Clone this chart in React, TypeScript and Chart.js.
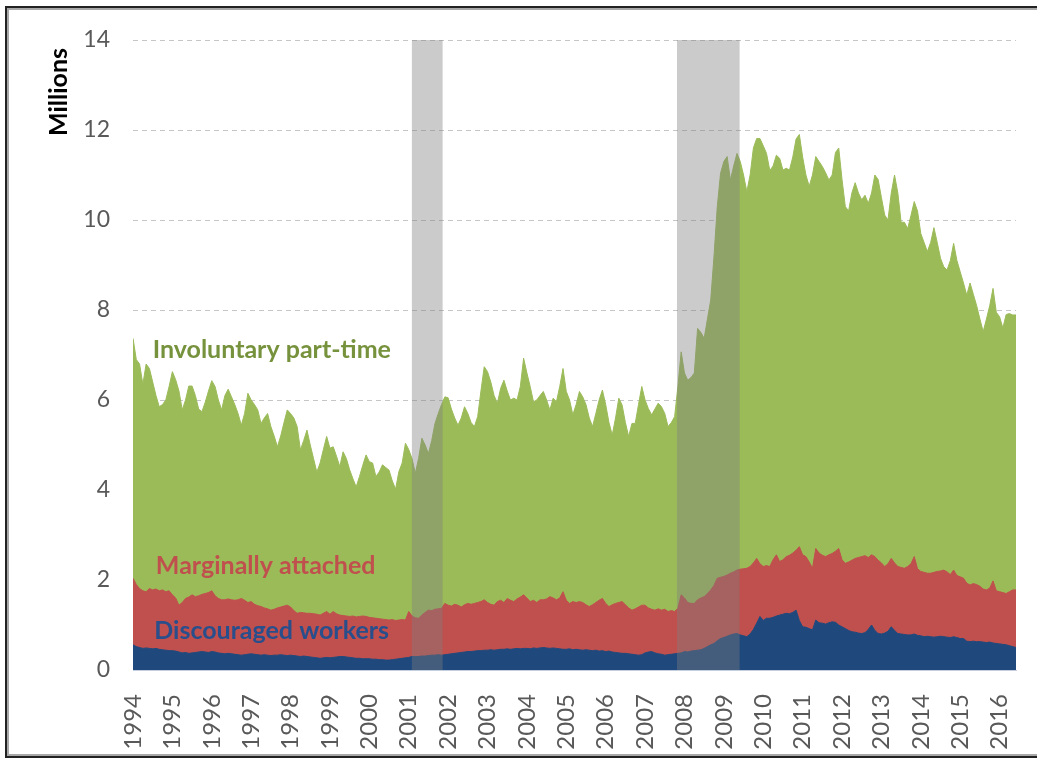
import React, { useEffect, useRef } from "react";
import { Chart, registerables } from "chart.js";

Chart.register(...registerables);

// ---------------- data ----------------
const startYear = 1994; // monthly series, Jan 1994 .. Jun 2016
const tickYears = [
  1994, 1995, 1996, 1997, 1998, 1999, 2000, 2001, 2002, 2003, 2004, 2005,
  2006, 2007, 2008, 2009, 2010, 2011, 2012, 2013, 2014, 2015, 2016,
];
const recessionStart = [2001.08, 2007.81];
const recessionEnd = [2001.86, 2009.4];
const seriesNames = ["Discouraged workers", "Marginally attached", "Involuntary part-time"];

// millions
const discouragedWorkers = [
  0.56, 0.52, 0.50, 0.48, 0.49, 0.48, 0.47, 0.48, 0.46, 0.45, 0.44, 0.43,
  0.43, 0.42, 0.40, 0.38, 0.39, 0.37, 0.38, 0.39, 0.40, 0.41, 0.40, 0.39,
  0.41, 0.40, 0.38, 0.37, 0.36, 0.37, 0.36, 0.35, 0.34, 0.33, 0.34, 0.35,
  0.36, 0.35, 0.34, 0.33, 0.34, 0.33, 0.32, 0.33, 0.33, 0.34, 0.33, 0.32,
  0.33, 0.32, 0.31, 0.30, 0.31, 0.30, 0.29, 0.28, 0.27, 0.26, 0.27, 0.28,
  0.27, 0.28, 0.29, 0.30, 0.30, 0.29, 0.28, 0.27, 0.26, 0.26, 0.25, 0.25,
  0.25, 0.24, 0.24, 0.23, 0.23, 0.22, 0.22, 0.23, 0.24, 0.25, 0.26, 0.27,
  0.28, 0.30, 0.30, 0.30, 0.31, 0.31, 0.32, 0.33, 0.33, 0.34, 0.33, 0.34,
  0.35, 0.36, 0.37, 0.38, 0.39, 0.40, 0.41, 0.41, 0.42, 0.43, 0.43, 0.44,
  0.44, 0.45, 0.44, 0.45, 0.46, 0.46, 0.47, 0.46, 0.47, 0.48, 0.47, 0.48,
  0.48, 0.47, 0.49, 0.48, 0.49, 0.50, 0.49, 0.48, 0.49, 0.48, 0.47, 0.46,
  0.46, 0.47, 0.45, 0.46, 0.45, 0.44, 0.45, 0.44, 0.43, 0.44, 0.42, 0.43,
  0.41, 0.42, 0.40, 0.39, 0.38, 0.37, 0.37, 0.36, 0.35, 0.34, 0.33, 0.34,
  0.38, 0.40, 0.41, 0.38, 0.36, 0.35, 0.33, 0.34, 0.35, 0.36, 0.37, 0.38,
  0.41, 0.40, 0.42, 0.43, 0.44, 0.45, 0.48, 0.52, 0.56, 0.59, 0.65, 0.70,
  0.72, 0.75, 0.78, 0.80, 0.81, 0.78, 0.76, 0.74, 0.80, 0.90, 1.04, 1.19,
  1.10, 1.15, 1.15, 1.17, 1.20, 1.22, 1.24, 1.26, 1.25, 1.28, 1.33, 1.10,
  0.96, 0.95, 0.92, 0.89, 1.11, 1.05, 1.04, 1.02, 1.05, 1.07, 1.06, 1.00,
  0.96, 0.92, 0.88, 0.85, 0.84, 0.82, 0.81, 0.83, 0.90, 1.00, 0.88, 0.81,
  0.80, 0.82, 0.86, 0.96, 0.88, 0.81, 0.80, 0.79, 0.78, 0.78, 0.80, 0.77,
  0.76, 0.74, 0.75, 0.74, 0.73, 0.74, 0.75, 0.74, 0.73, 0.72, 0.74, 0.72,
  0.70, 0.70, 0.64, 0.63, 0.64, 0.63, 0.63, 0.62, 0.61, 0.62, 0.60, 0.59,
  0.58, 0.57, 0.56, 0.54, 0.52, 0.50,
];

const marginallyAttached = [
  2.04, 1.90, 1.81, 1.76, 1.74, 1.81, 1.78, 1.80, 1.76, 1.78, 1.74, 1.76,
  1.67, 1.60, 1.44, 1.50, 1.59, 1.62, 1.67, 1.63, 1.65, 1.68, 1.70, 1.72,
  1.76, 1.65, 1.59, 1.56, 1.56, 1.58, 1.56, 1.55, 1.56, 1.59, 1.55, 1.50,
  1.52, 1.46, 1.43, 1.41, 1.38, 1.36, 1.33, 1.35, 1.38, 1.40, 1.42, 1.44,
  1.40, 1.32, 1.26, 1.28, 1.27, 1.26, 1.26, 1.25, 1.24, 1.22, 1.26, 1.30,
  1.24, 1.30, 1.25, 1.22, 1.21, 1.20, 1.19, 1.20, 1.18, 1.19, 1.20, 1.19,
  1.17, 1.16, 1.15, 1.14, 1.13, 1.12, 1.11, 1.12, 1.10, 1.11, 1.12, 1.11,
  1.30, 1.20, 1.16, 1.15, 1.22, 1.28, 1.33, 1.32, 1.35, 1.36, 1.37, 1.48,
  1.44, 1.42, 1.46, 1.44, 1.40, 1.45, 1.48, 1.46, 1.48, 1.50, 1.52, 1.56,
  1.50, 1.46, 1.44, 1.52, 1.55, 1.50, 1.59, 1.55, 1.52, 1.58, 1.62, 1.67,
  1.60, 1.52, 1.55, 1.50, 1.56, 1.56, 1.58, 1.63, 1.60, 1.56, 1.60, 1.74,
  1.55, 1.48, 1.52, 1.50, 1.52, 1.50, 1.45, 1.41, 1.45, 1.50, 1.55, 1.59,
  1.48, 1.41, 1.45, 1.48, 1.50, 1.52, 1.45, 1.38, 1.33, 1.36, 1.40, 1.44,
  1.44, 1.38, 1.35, 1.33, 1.36, 1.33, 1.35, 1.30, 1.32, 1.30, 1.37, 1.67,
  1.60, 1.50, 1.48, 1.48, 1.56, 1.60, 1.63, 1.70, 1.78, 1.88, 2.04, 2.06,
  2.08, 2.11, 2.15, 2.18, 2.22, 2.24, 2.25, 2.26, 2.30, 2.38, 2.48, 2.36,
  2.30, 2.32, 2.30, 2.45, 2.56, 2.41, 2.45, 2.52, 2.55, 2.60, 2.66, 2.74,
  2.56, 2.52, 2.40, 2.26, 2.70, 2.60, 2.55, 2.52, 2.56, 2.59, 2.64, 2.70,
  2.45, 2.37, 2.40, 2.44, 2.48, 2.50, 2.52, 2.54, 2.50, 2.56, 2.52, 2.44,
  2.38, 2.30, 2.36, 2.48, 2.38, 2.30, 2.28, 2.26, 2.30, 2.36, 2.52, 2.25,
  2.19, 2.17, 2.15, 2.15, 2.17, 2.19, 2.20, 2.22, 2.18, 2.12, 2.22, 2.10,
  2.07, 2.04, 1.93, 1.89, 1.92, 1.90, 1.86, 1.80, 1.78, 1.82, 1.98, 1.76,
  1.74, 1.72, 1.70, 1.74, 1.78, 1.78,
];

const involuntaryPartTime = [
  5.33, 5.00, 4.99, 4.59, 5.06, 4.89, 4.62, 4.30, 4.09, 4.12, 4.26, 4.54,
  4.96, 4.85, 4.76, 4.28, 4.41, 4.69, 4.64, 4.47, 4.15, 4.06, 4.25, 4.48,
  4.67, 4.65, 4.41, 4.22, 4.54, 4.66, 4.51, 4.35, 4.14, 3.85, 4.15, 4.65,
  4.48, 4.44, 4.35, 4.07, 4.22, 4.34, 4.08, 3.85, 3.58, 3.80, 4.08, 4.34,
  4.30, 4.28, 4.15, 3.61, 3.83, 4.07, 3.74, 3.45, 3.16, 3.38, 3.64, 3.89,
  3.69, 3.66, 3.50, 3.30, 3.64, 3.50, 3.26, 3.05, 2.89, 3.11, 3.35, 3.59,
  3.46, 3.44, 3.15, 3.26, 3.43, 3.38, 3.33, 3.08, 2.92, 3.30, 3.48, 3.93,
  3.60, 3.50, 3.21, 3.55, 3.93, 3.72, 3.48, 3.78, 4.13, 4.34, 4.53, 4.59,
  4.61, 4.38, 4.14, 4.00, 4.20, 4.40, 4.22, 4.04, 3.93, 4.13, 4.68, 5.18,
  5.13, 4.94, 4.66, 4.41, 4.71, 4.94, 4.61, 4.45, 4.52, 4.42, 4.68, 5.26,
  5.00, 4.78, 4.41, 4.50, 4.54, 4.63, 4.42, 4.15, 4.44, 4.40, 4.70, 4.96,
  4.64, 4.52, 4.15, 4.40, 4.67, 4.57, 4.45, 4.19, 3.96, 4.20, 4.45, 4.63,
  4.42, 4.09, 3.77, 4.12, 4.54, 4.37, 4.05, 3.81, 4.15, 4.12, 4.50, 4.86,
  4.56, 4.43, 4.32, 4.47, 4.57, 4.52, 4.35, 4.11, 4.18, 4.33, 4.93, 5.40,
  5.00, 4.94, 5.02, 5.12, 6.03, 5.90, 5.74, 6.10, 6.44, 7.32, 8.26, 8.98,
  9.22, 9.30, 8.74, 9.02, 9.26, 9.06, 8.75, 8.37, 8.70, 9.22, 9.33, 9.45,
  9.35, 9.16, 8.80, 8.75, 8.88, 8.96, 8.66, 8.63, 8.56, 8.80, 9.14, 9.16,
  8.84, 8.48, 8.35, 8.74, 8.71, 8.70, 8.64, 8.53, 8.33, 8.41, 8.86, 8.90,
  8.45, 7.93, 7.80, 8.16, 8.35, 8.10, 7.93, 8.01, 7.87, 8.04, 8.48, 8.46,
  8.12, 7.81, 7.64, 8.12, 8.62, 8.30, 7.67, 7.69, 7.51, 7.74, 7.89, 7.95,
  7.51, 7.33, 7.15, 7.35, 7.66, 7.31, 6.95, 6.74, 6.71, 6.98, 7.26, 7.00,
  6.78, 6.56, 6.40, 6.71, 6.43, 6.20, 5.94, 5.72, 6.02, 6.28, 6.50, 6.19,
  6.11, 5.88, 6.20, 6.18, 6.11, 6.11,
];

// ---------------- styling ----------------
const FONT = 'Lato, "Liberation Sans", sans-serif';
const COLORS = ["#1F497D", "#C0504D", "#9BBB59"];
const TEXT_COLORS = ["#284E8C", "#C0504D", "#76923C"];

export default function App() {
  const ref = useRef<HTMLCanvasElement | null>(null);

  useEffect(() => {
    if (!ref.current) return;
    const months = discouragedWorkers.map((_, i) => startYear + i / 12);
    const pts = (vals: number[]) => vals.map((v, i) => ({ x: months[i], y: v }));
    const stackedTop = marginallyAttached.map((m, i) => m + involuntaryPartTime[i]);

    const mkDs = (k: number, vals: number[]) => ({
      label: seriesNames[k],
      data: pts(vals),
      backgroundColor: COLORS[k],
      borderColor: COLORS[k],
      borderWidth: 1,
      pointRadius: 0,
      pointHoverRadius: 0,
      tension: 0,
      fill: "origin",
    });

    // label anchors (year, millions) for in-plot series labels
    const labelAnchors = [
      { k: 2, x: 1994.5, y: 7.11 },
      { k: 1, x: 1994.58, y: 2.31 },
      { k: 0, x: 1994.54, y: 0.86 },
    ];

    const overlay = {
      id: "overlay",
      afterDatasetsDraw(chart: any) {
        const { ctx, chartArea, scales } = chart;
        const xs = scales.x;
        const ys = scales.y;
        ctx.save();
        ctx.fillStyle = "rgba(125,125,125,0.4)";
        recessionStart.forEach((s, k) => {
          const x1 = xs.getPixelForValue(s);
          const x2 = xs.getPixelForValue(recessionEnd[k]);
          ctx.fillRect(x1, chartArea.top, x2 - x1, chartArea.bottom - chartArea.top);
        });
        ctx.font = `bold 25px ${FONT}`;
        ctx.textAlign = "left";
        ctx.textBaseline = "middle";
        labelAnchors.forEach((a) => {
          ctx.fillStyle = TEXT_COLORS[a.k];
          ctx.fillText(seriesNames[a.k], xs.getPixelForValue(a.x), ys.getPixelForValue(a.y));
        });
        ctx.restore();
      },
      afterDraw(chart: any) {
        const { ctx, chartArea } = chart;
        ctx.save();
        ctx.translate(59, chartArea.top + 8);
        ctx.rotate(-Math.PI / 2);
        ctx.font = `bold 25px ${FONT}`;
        ctx.fillStyle = "#000";
        ctx.textAlign = "right";
        ctx.textBaseline = "middle";
        ctx.fillText("Millions", 0, 0);
        ctx.restore();
      },
    };

    const chart = new Chart(ref.current, {
      type: "line",
      data: {
        datasets: [
          mkDs(0, discouragedWorkers),
          mkDs(1, marginallyAttached),
          mkDs(2, stackedTop),
        ] as any,
      },
      options: {
        responsive: false,
        animation: false,
        devicePixelRatio: 1,
        layout: { padding: { left: 0, right: 21, top: 40, bottom: 0 } },
        plugins: { legend: { display: false }, tooltip: { enabled: false } },
        events: [],
        scales: {
          x: {
            type: "linear",
            min: startYear,
            max: months[months.length - 1],
            grid: { display: false },
            border: { display: true, color: "#c5cfdf", width: 1 },
            afterBuildTicks: (s: any) => {
              s.ticks = tickYears.map((v) => ({ value: v }));
            },
            afterFit: (s: any) => {
              s.height = 89;
              s.paddingLeft = 0;
              s.paddingRight = 0;
            },
            ticks: {
              autoSkip: false,
              includeBounds: false,
              minRotation: 90,
              maxRotation: 90,
              padding: 16,
              color: "#595959",
              font: { family: FONT, size: 24 },
              callback: (v: any) => String(v),
            },
          },
          y: {
            min: 0,
            max: 14,
            afterFit: (s: any) => {
              s.width = 133;
              s.paddingTop = 0;
              s.paddingBottom = 0;
            },
            grid: {
              drawTicks: false,
              lineWidth: 1,
              color: (c: any) => (c.tick && c.tick.value === 0 ? "rgba(0,0,0,0)" : "#c6c6c6"),
              borderDash: [5, 4],
            } as any,
            border: { display: false, dash: [5, 4] },
            ticks: {
              stepSize: 2,
              padding: 23,
              color: "#595959",
              font: { family: FONT, size: 23 },
            },
          },
        },
      } as any,
      plugins: [overlay],
    });
    return () => chart.destroy();
  }, []);

  return (
    <div
      style={{
        position: "fixed",
        left: 0,
        top: 0,
        width: 1037,
        height: 759,
        overflow: "hidden",
        background: "#fff",
      }}
    >
      <div
        style={{
          position: "absolute",
          left: 5,
          top: 6,
          width: 1100,
          height: 752,
          boxSizing: "border-box",
          borderLeft: "2px solid #222",
          borderTop: "2px solid #222",
          borderBottom: "2px solid #222",
          boxShadow: "inset 2px 2px 0 #a8a8a8, inset 0 -2px 0 #a8a8a8",
        }}
      />
      <canvas
        ref={ref}
        width={1037}
        height={759}
        style={{ position: "absolute", left: 0, top: 0, width: 1037, height: 759, display: "block" }}
      />
    </div>
  );
}
